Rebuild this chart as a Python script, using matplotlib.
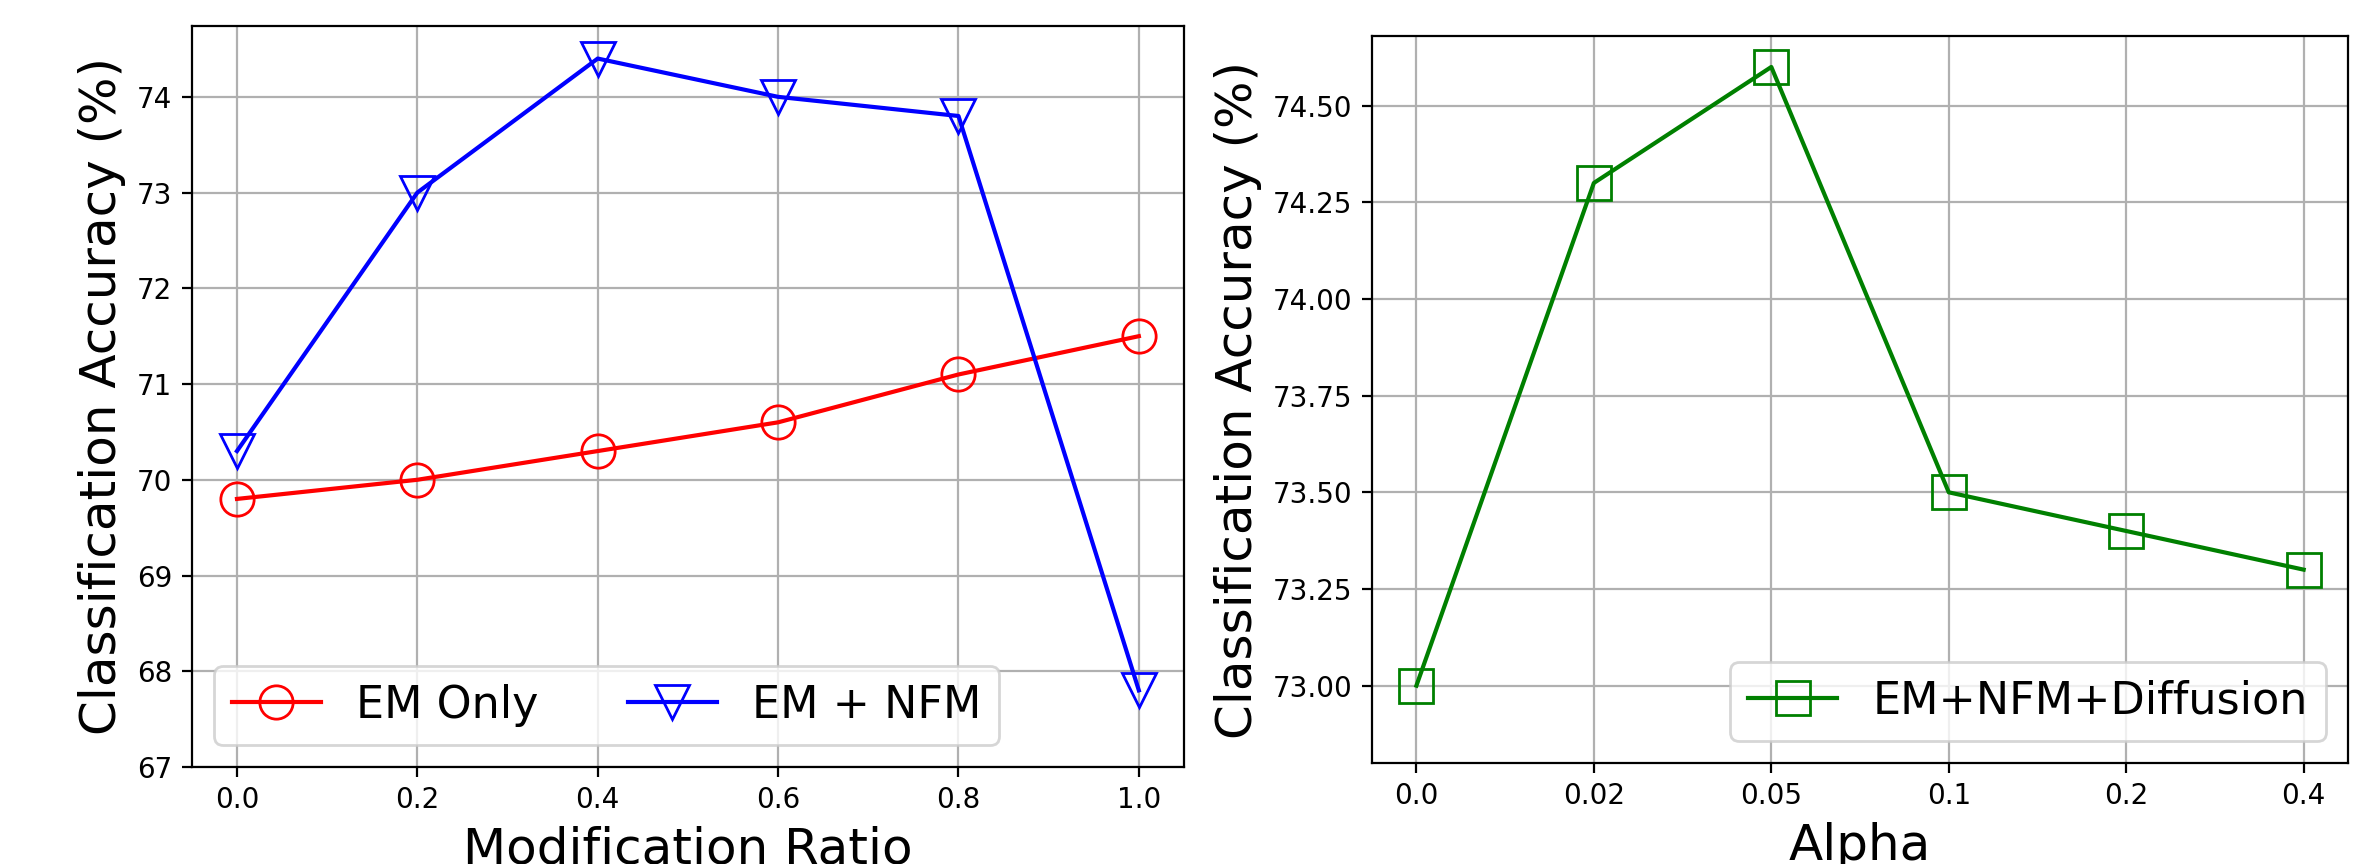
import matplotlib
matplotlib.use('Agg')
import matplotlib.pyplot as plt

# left panel: modification ratio sweep
ratios = [0.0, 0.2, 0.4, 0.6, 0.8, 1.0]
em_only = [69.8, 70.0, 70.3, 70.6, 71.1, 71.5]
em_nfm = [70.3, 73.0, 74.4, 74.0, 73.8, 67.8]

# right panel: alpha sweep (evenly spaced categories)
alpha_labels = ['0.0', '0.02', '0.05', '0.1', '0.2', '0.4']
em_nfm_diff = [73.0, 74.3, 74.6, 73.5, 73.4, 73.3]

fig = plt.figure(figsize=(11.83, 4.32), dpi=200)

ax1 = fig.add_axes([0.0811, 0.1123, 0.4193, 0.8576])
ax1.plot(ratios, em_only, 'r-o', markersize=12, markerfacecolor='none',
         linewidth=1.5, label='EM Only')
ax1.plot(ratios, em_nfm, 'b-v', markersize=12, markerfacecolor='none',
         linewidth=1.5, label='EM + NFM')
ax1.set_ylim(67, 74.74)
ax1.set_xlabel('Modification Ratio', fontsize=18)
ax1.set_ylabel('Classification Accuracy (%)', fontsize=18)
ax1.grid(True)
ax1.legend(loc='lower left', ncol=2, fontsize=16)

ax2 = fig.add_axes([0.5799, 0.1169, 0.4125, 0.8414])
xs = range(len(alpha_labels))
ax2.plot(xs, em_nfm_diff, '-s', color='green', markersize=12,
         markerfacecolor='none', linewidth=1.5, label='EM+NFM+Diffusion')
ax2.set_xticks(list(xs))
ax2.set_xticklabels(alpha_labels)
ax2.set_ylim(72.8, 74.68)
ax2.set_yticks([73.0, 73.25, 73.5, 73.75, 74.0, 74.25, 74.5])
ax2.set_xlabel('Alpha', fontsize=18)
ax2.set_ylabel('Classification Accuracy (%)', fontsize=18)
ax2.grid(True)
ax2.legend(loc='lower right', fontsize=16)

fig.savefig('out.png', dpi=200)
